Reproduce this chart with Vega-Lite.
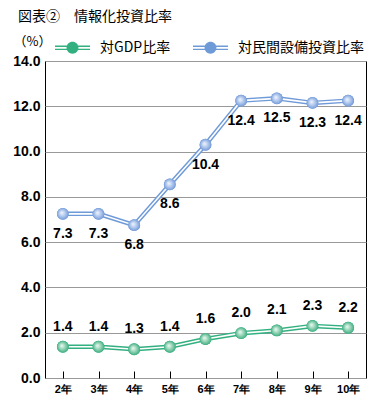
{
  "$schema": "https://vega.github.io/schema/vega-lite/v6.json",
  "width": 321,
  "height": 317,
  "autosize": "none",
  "padding": {"left": 45, "top": 61, "right": 18, "bottom": 39},
  "background": "white",
  "title": {
    "text": "図表②　情報化投資比率",
    "anchor": "start",
    "frame": "group",
    "orient": "top",
    "font": "Noto Sans CJK JP",
    "fontSize": 14,
    "fontWeight": "normal",
    "color": "#000000",
    "baseline": "middle",
    "offset": 0,
    "dx": -27,
    "dy": 1
  },
  "config": {
    "view": {"stroke": "#000000", "strokeWidth": 1},
    "font": "Liberation Sans"
  },
  "data": {
    "values": [
      {"year": "2年", "series": "対GDP比率", "value": 1.38, "label": "1.4"},
      {"year": "3年", "series": "対GDP比率", "value": 1.38, "label": "1.4"},
      {"year": "4年", "series": "対GDP比率", "value": 1.27, "label": "1.3"},
      {"year": "5年", "series": "対GDP比率", "value": 1.38, "label": "1.4"},
      {"year": "6年", "series": "対GDP比率", "value": 1.72, "label": "1.6"},
      {"year": "7年", "series": "対GDP比率", "value": 1.98, "label": "2.0"},
      {"year": "8年", "series": "対GDP比率", "value": 2.1, "label": "2.1"},
      {"year": "9年", "series": "対GDP比率", "value": 2.3, "label": "2.3"},
      {"year": "10年", "series": "対GDP比率", "value": 2.22, "label": "2.2"},
      {"year": "2年", "series": "対民間設備投資比率", "value": 7.25, "label": "7.3"},
      {"year": "3年", "series": "対民間設備投資比率", "value": 7.25, "label": "7.3"},
      {"year": "4年", "series": "対民間設備投資比率", "value": 6.75, "label": "6.8"},
      {"year": "5年", "series": "対民間設備投資比率", "value": 8.55, "label": "8.6"},
      {"year": "6年", "series": "対民間設備投資比率", "value": 10.3, "label": "10.4"},
      {"year": "7年", "series": "対民間設備投資比率", "value": 12.25, "label": "12.4"},
      {"year": "8年", "series": "対民間設備投資比率", "value": 12.35, "label": "12.5"},
      {"year": "9年", "series": "対民間設備投資比率", "value": 12.15, "label": "12.3"},
      {"year": "10年", "series": "対民間設備投資比率", "value": 12.25, "label": "12.4"}
    ]
  },
  "encoding": {
    "x": {
      "field": "year",
      "type": "ordinal",
      "sort": ["2年", "3年", "4年", "5年", "6年", "7年", "8年", "9年", "10年"],
      "scale": {"paddingInner": 0, "paddingOuter": 0},
      "axis": {
        "title": null,
        "labelAngle": 0,
        "labelFont": "Liberation Sans",
        "labelFontSize": 11,
        "labelFontWeight": "bold",
        "labelColor": "#000000",
        "labelPadding": 12,
        "bandPosition": 0,
        "tickSize": -7,
        "tickColor": "#000000",
        "domain": false,
        "grid": false
      }
    },
    "y": {
      "field": "value",
      "type": "quantitative",
      "scale": {"domain": [0, 14], "nice": false},
      "axis": {
        "title": "（%）",
        "titleAngle": 0,
        "titleAlign": "left",
        "titleBaseline": "middle",
        "titleX": -32,
        "titleY": -20,
        "titleFont": "Noto Sans CJK JP",
        "titleFontSize": 13,
        "titleFontWeight": "normal",
        "titleColor": "#000000",
        "values": [0, 2, 4, 6, 8, 10, 12, 14],
        "format": ".1f",
        "labelFont": "Liberation Sans",
        "labelFontSize": 14,
        "labelFontWeight": "bold",
        "labelColor": "#000000",
        "labelPadding": 5,
        "ticks": false,
        "domain": false,
        "grid": true,
        "gridColor": "#999999",
        "gridWidth": 1
      }
    }
  },
  "layer": [
    {
      "mark": {"type": "line", "strokeWidth": 4.5},
      "encoding": {
        "detail": {"field": "series"},
        "color": {
          "field": "series",
          "type": "nominal",
          "scale": {"domain": ["対GDP比率", "対民間設備投資比率"], "range": ["#33b080", "#6f9ad8"]}
        }
      }
    },
    {
      "mark": {"type": "line", "strokeWidth": 1.6, "color": "#ffffff"},
      "encoding": {"detail": {"field": "series"}}
    },
    {
      "mark": {"type": "point", "filled": true, "size": 140, "opacity": 1},
      "encoding": {
        "color": {
          "field": "series",
          "type": "nominal",
          "legend": {
            "title": null,
            "orient": "none",
            "legendX": 10,
            "legendY": -31,
            "direction": "horizontal",
            "padding": 0,
            "columnPadding": 22,
            "symbolType": "M-1,-0.13H1V-0.05H-1Z M-1,0.05H1V0.13H-1Z M0.34,0A0.34,0.34 0 1,1 -0.34,0A0.34,0.34 0 1,1 0.34,0Z",
            "symbolSize": 1225,
            "symbolStrokeWidth": 0,
            "symbolOpacity": 1,
            "labelFont": "Noto Sans CJK JP",
            "labelFontSize": 14,
            "labelColor": "#000000",
            "labelOffset": 10
          }
        }
      }
    },
    {
      "transform": [{"filter": "datum.series === '対GDP比率'"}],
      "mark": {
        "type": "point",
        "filled": true,
        "size": 140,
        "opacity": 1,
        "fill": {
          "gradient": "radial",
          "x1": 0.4, "y1": 0.4, "r1": 0,
          "x2": 0.5, "y2": 0.5, "r2": 0.55,
          "stops": [
            {"offset": 0, "color": "#f2fbf7"},
            {"offset": 0.6, "color": "#7fcaa8"},
            {"offset": 1, "color": "#2fa878"}
          ]
        }
      }
    },
    {
      "transform": [{"filter": "datum.series === '対民間設備投資比率'"}],
      "mark": {
        "type": "point",
        "filled": true,
        "size": 140,
        "opacity": 1,
        "fill": {
          "gradient": "radial",
          "x1": 0.4, "y1": 0.4, "r1": 0,
          "x2": 0.5, "y2": 0.5, "r2": 0.55,
          "stops": [
            {"offset": 0, "color": "#f4f8ff"},
            {"offset": 0.6, "color": "#a2bde8"},
            {"offset": 1, "color": "#6b93d6"}
          ]
        }
      }
    },
    {
      "transform": [{"filter": "datum.series === '対GDP比率'"}],
      "mark": {"type": "text", "dy": -20, "font": "Liberation Sans", "fontSize": 14, "fontWeight": "bold", "color": "#000000"},
      "encoding": {"text": {"field": "label"}}
    },
    {
      "transform": [{"filter": "datum.series === '対民間設備投資比率'"}],
      "mark": {"type": "text", "dy": 20, "font": "Liberation Sans", "fontSize": 14, "fontWeight": "bold", "color": "#000000"},
      "encoding": {"text": {"field": "label"}}
    }
  ]
}
